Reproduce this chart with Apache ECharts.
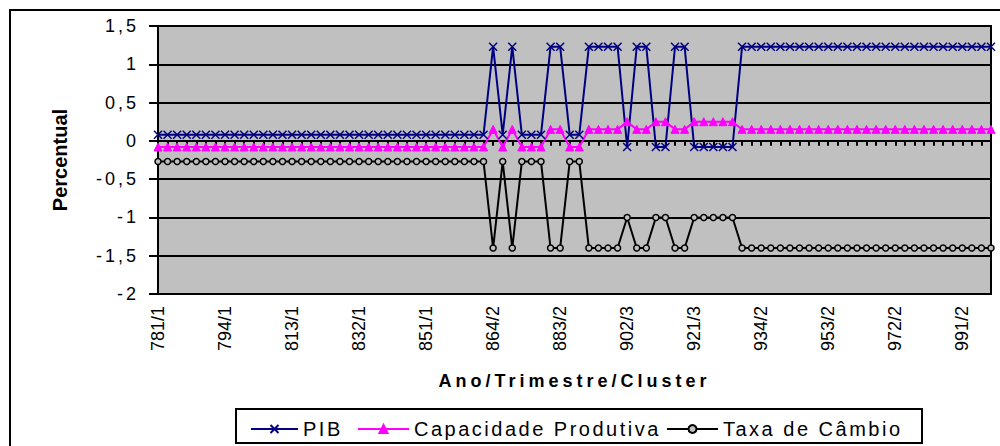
<!DOCTYPE html>
<html>
<head>
<meta charset="utf-8">
<script src="https://cdn.jsdelivr.net/npm/echarts@6/dist/echarts.min.js"></script>
<style>
html,body{margin:0;padding:0;background:#fff;}
#c{width:1000px;height:446px;}
text[style*="lsA"], text[font-family*="lsA"]{letter-spacing:3px;}
text[style*="lsB"], text[font-family*="lsB"]{letter-spacing:2.5px;}
text[style*="lsC"], text[font-family*="lsC"]{letter-spacing:4px;}
</style>
</head>
<body>
<div id="c"></div>
<script>
// Ano/Trimestre/Cluster
const categories = [
  "781/1","782/1","783/1","784/1",
  "791/1","792/1","793/1","794/1",
  "801/1","802/1","803/1","804/1",
  "811/1","812/1","813/1","814/1",
  "821/1","822/1","823/1","824/1",
  "831/1","832/1","833/1","834/1",
  "841/1","842/1","843/1","844/1",
  "851/1","852/1","853/1","854/1",
  "861/1","862/1","863/1","864/2",
  "871/1","872/2","873/1","874/1",
  "881/1","882/2","883/2","884/1",
  "891/1","892/2","893/2","894/2",
  "901/2","902/3","903/2","904/2",
  "911/3","912/3","913/2","914/2",
  "921/3","922/3","923/3","924/3",
  "931/3","932/2","933/2","934/2",
  "941/2","942/2","943/2","944/2",
  "951/2","952/2","953/2","954/2",
  "961/2","962/2","963/2","964/2",
  "971/2","972/2","973/2","974/2",
  "981/2","982/2","983/2","984/2",
  "991/2","992/2","993/2","994/2"
];
const pib = [
  0.08,0.08,0.08,0.08,
  0.08,0.08,0.08,0.08,
  0.08,0.08,0.08,0.08,
  0.08,0.08,0.08,0.08,
  0.08,0.08,0.08,0.08,
  0.08,0.08,0.08,0.08,
  0.08,0.08,0.08,0.08,
  0.08,0.08,0.08,0.08,
  0.08,0.08,0.08,1.23,
  0.08,1.23,0.08,0.08,
  0.08,1.23,1.23,0.08,
  0.08,1.23,1.23,1.23,
  1.23,-0.08,1.23,1.23,
  -0.08,-0.08,1.23,1.23,
  -0.08,-0.08,-0.08,-0.08,
  -0.08,1.23,1.23,1.23,
  1.23,1.23,1.23,1.23,
  1.23,1.23,1.23,1.23,
  1.23,1.23,1.23,1.23,
  1.23,1.23,1.23,1.23,
  1.23,1.23,1.23,1.23,
  1.23,1.23,1.23,1.23
];
const capacidade = [
  -0.08,-0.08,-0.08,-0.08,
  -0.08,-0.08,-0.08,-0.08,
  -0.08,-0.08,-0.08,-0.08,
  -0.08,-0.08,-0.08,-0.08,
  -0.08,-0.08,-0.08,-0.08,
  -0.08,-0.08,-0.08,-0.08,
  -0.08,-0.08,-0.08,-0.08,
  -0.08,-0.08,-0.08,-0.08,
  -0.08,-0.08,-0.08,0.15,
  -0.08,0.15,-0.08,-0.08,
  -0.08,0.15,0.15,-0.08,
  -0.08,0.15,0.15,0.15,
  0.15,0.25,0.15,0.15,
  0.25,0.25,0.15,0.15,
  0.25,0.25,0.25,0.25,
  0.25,0.15,0.15,0.15,
  0.15,0.15,0.15,0.15,
  0.15,0.15,0.15,0.15,
  0.15,0.15,0.15,0.15,
  0.15,0.15,0.15,0.15,
  0.15,0.15,0.15,0.15,
  0.15,0.15,0.15,0.15
];
const cambio = [
  -0.27,-0.27,-0.27,-0.27,
  -0.27,-0.27,-0.27,-0.27,
  -0.27,-0.27,-0.27,-0.27,
  -0.27,-0.27,-0.27,-0.27,
  -0.27,-0.27,-0.27,-0.27,
  -0.27,-0.27,-0.27,-0.27,
  -0.27,-0.27,-0.27,-0.27,
  -0.27,-0.27,-0.27,-0.27,
  -0.27,-0.27,-0.27,-1.40,
  -0.27,-1.40,-0.27,-0.27,
  -0.27,-1.40,-1.40,-0.27,
  -0.27,-1.40,-1.40,-1.40,
  -1.40,-1.00,-1.40,-1.40,
  -1.00,-1.00,-1.40,-1.40,
  -1.00,-1.00,-1.00,-1.00,
  -1.00,-1.40,-1.40,-1.40,
  -1.40,-1.40,-1.40,-1.40,
  -1.40,-1.40,-1.40,-1.40,
  -1.40,-1.40,-1.40,-1.40,
  -1.40,-1.40,-1.40,-1.40,
  -1.40,-1.40,-1.40,-1.40,
  -1.40,-1.40,-1.40,-1.40
];
const seriesNames = ["PIB","Capacidade Produtiva","Taxa de Câmbio"];
const yTicks = {min:-2, max:1.5, interval:0.5};

const chart = echarts.init(document.getElementById('c'), null, {renderer:'svg'});
const legendText = {fontSize:20, color:'#000', fontFamily:'Liberation Sans, lsB'};
const option = {
  animation:false,
  backgroundColor:'#fff',
  grid:{left:158, top:26, width:833, height:268, show:true, backgroundColor:'#C0C0C0', borderColor:'#000', borderWidth:2},
  graphic:[
    {type:'rect', z:-10, shape:{x:10,y:10,width:1000,height:440}, style:{fill:'none', stroke:'#000', lineWidth:2}},
    {type:'rect', z:-5, shape:{x:236,y:409,width:686,height:34}, style:{fill:'#fff', stroke:'#000', lineWidth:2}}
  ],
  xAxis:{
    type:'category', data:categories, boundaryGap:false,
    name:'Ano/Trimestre/Cluster', nameLocation:'middle', nameGap:78,
    nameTextStyle:{fontSize:18, fontWeight:'bold', color:'#000', fontFamily:'Liberation Sans, lsC'},
    axisLine:{lineStyle:{color:'#000', width:2}},
    axisTick:{show:true, interval:0, length:5, inside:false, lineStyle:{color:'#000', width:2}},
    axisLabel:{interval:6, rotate:90, fontSize:18, color:'#000', margin:12, fontFamily:'Liberation Sans'},
    splitLine:{show:false}
  },
  yAxis:{
    type:'value', min:yTicks.min, max:yTicks.max, interval:yTicks.interval,
    name:'Percentual', nameLocation:'middle', nameGap:88,
    nameTextStyle:{fontSize:20, fontWeight:'bold', color:'#000', fontFamily:'Liberation Sans'},
    axisLine:{show:true, lineStyle:{color:'#000', width:2}},
    axisTick:{show:true, length:9, lineStyle:{color:'#000', width:2}},
    axisLabel:{fontSize:18, color:'#000', margin:19, fontFamily:'Liberation Sans, lsA',
      formatter:v => String(v).replace('.', ',')},
    splitLine:{show:true, lineStyle:{color:'#000', width:2}}
  },
  legend:[
    {data:[seriesNames[0]], left:245, top:414, itemWidth:47, itemHeight:10, itemGap:0, textStyle:legendText},
    {data:[seriesNames[1]], left:352, top:414, itemWidth:51, itemHeight:10, itemGap:0, textStyle:legendText},
    {data:[seriesNames[2]], left:661, top:414, itemWidth:51, itemHeight:10, itemGap:0, textStyle:legendText}
  ],
  series:[
    {name:seriesNames[0], type:'line', data:pib, showAllSymbol:true,
      symbol:'path://M0,0L10,10M10,0L0,10', symbolSize:8,
      lineStyle:{color:'#000080', width:2},
      itemStyle:{color:'#000080', borderColor:'#000080', borderWidth:1.5}},
    {name:seriesNames[1], type:'line', data:capacidade, showAllSymbol:true,
      symbol:'triangle', symbolSize:8,
      lineStyle:{color:'#FF00FF', width:2},
      itemStyle:{color:'#FF00FF', borderColor:'#FF00FF', borderWidth:1}},
    {name:seriesNames[2], type:'line', data:cambio, showAllSymbol:true,
      symbol:'circle', symbolSize:6,
      lineStyle:{color:'#000', width:2},
      itemStyle:{color:'#C0C0C0', borderColor:'#000', borderWidth:1.5}}
  ]
};
chart.setOption(option);
</script>
</body>
</html>
